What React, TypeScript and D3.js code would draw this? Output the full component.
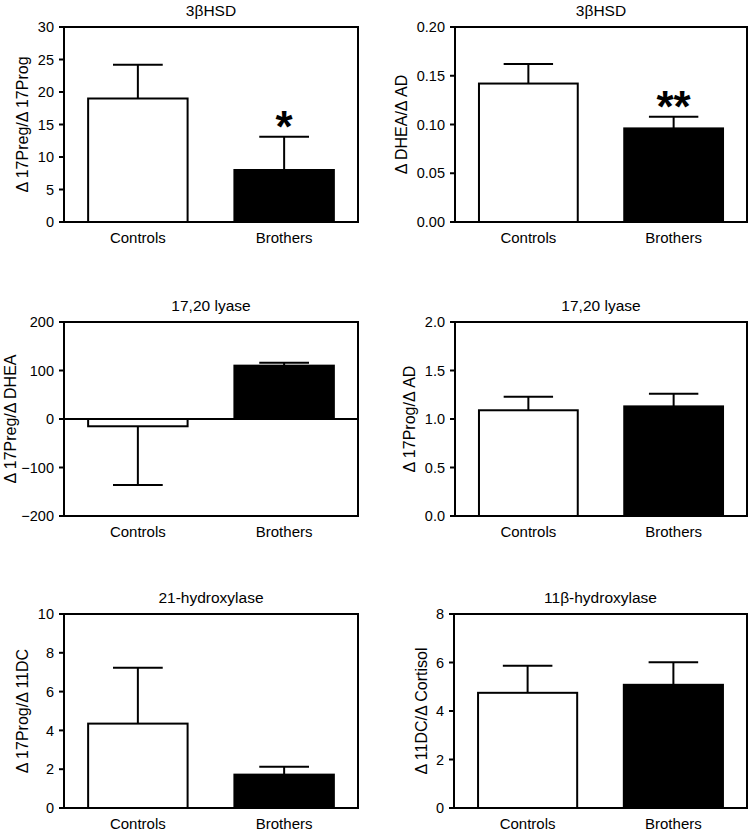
import React from "react";
import * as d3 from "d3";

const categories = ["Controls", "Brothers"];
const titles = ["3βHSD", "3βHSD", "17,20 lyase", "17,20 lyase", "21-hydroxylase", "11β-hydroxylase"];
const yLabels = ["Δ 17Preg/Δ 17Prog", "Δ DHEA/Δ AD", "Δ 17Preg/Δ DHEA", "Δ 17Prog/Δ AD", "Δ 17Prog/Δ 11DC", "Δ 11DC/Δ Cortisol"];

const hsdPregMeans = [19, 8];
const hsdPregErrors = [5.2, 5.1];
const hsdDheaMeans = [0.142, 0.096];
const hsdDheaErrors = [0.02, 0.012];
const lyasePregMeans = [-15, 110];
const lyasePregErrors = [121, 6];
const lyaseProgMeans = [1.09, 1.13];
const lyaseProgErrors = [0.14, 0.13];
const hydroxMeans = [4.35, 1.72];
const hydroxErrors = [2.88, 0.4];
const hydrox11Means = [4.75, 5.08];
const hydrox11Errors = [1.12, 0.93];

const yDomains = [[0, 30], [0, 0.2], [-200, 200], [0, 2], [0, 10], [0, 8]];
const yTickSteps = [5, 0.05, 100, 0.5, 2, 2];
const yTickFormats = ["d", ".2f", "d", ".1f", "d", "d"];
const significance = [["", "*"], ["", "**"], ["", ""], ["", ""], ["", ""], ["", ""]];

const allMeans = [hsdPregMeans, hsdDheaMeans, lyasePregMeans, lyaseProgMeans, hydroxMeans, hydrox11Means];
const allErrors = [hsdPregErrors, hsdDheaErrors, lyasePregErrors, lyaseProgErrors, hydroxErrors, hydrox11Errors];

const FONT = "'Liberation Sans', Arial, sans-serif";
const frames = [
  { x0: 64, x1: 358, y0: 27, y1: 222 },
  { x0: 455, x1: 747, y0: 27, y1: 222 },
  { x0: 64, x1: 358, y0: 322, y1: 516 },
  { x0: 455, x1: 747, y0: 322, y1: 516 },
  { x0: 64, x1: 358, y0: 614, y1: 808 },
  { x0: 454, x1: 747, y0: 614, y1: 808 },
];

function textWidth(s: string, size: number) {
  let w = 0;
  for (const c of s) {
    if (c === ".") w += 0.278;
    else if (c === "−" || c === "-") w += 0.584;
    else w += 0.556;
  }
  return w * size;
}

function Panel({ i }: { i: number }) {
  const f = frames[i];
  const x = d3.scaleBand().domain(categories).range([f.x0, f.x1]).paddingInner(0.32).paddingOuter(0.165);
  const y = d3.scaleLinear().domain(yDomains[i]).range([f.y1, f.y0]);
  const [lo, hi] = yDomains[i];
  const step = yTickSteps[i];
  const ticks = d3.range(0, Math.round((hi - lo) / step) + 1).map((k) => lo + k * step);
  const fmt = d3.format(yTickFormats[i]);
  const tickFont = 14.5;
  const maxW = d3.max(ticks, (t) => textWidth(fmt(t), tickFont)) as number;
  const labelX = Math.max(f.x0 - 10 - maxW - 15, 10);
  const midY = (f.y0 + f.y1) / 2;
  const means = allMeans[i];
  const errs = allErrors[i];
  const y0 = y(0);
  return (
    <g>
      <text x={(f.x0 + f.x1) / 2} y={f.y0 - 11.5} textAnchor="middle" fontSize={15.5} fontFamily={FONT}>
        {titles[i]}
      </text>
      {categories.map((c, j) => {
        const m = means[j];
        const e = errs[j];
        const bx = x(c) as number;
        const bw = x.bandwidth();
        const cx = bx + bw / 2;
        const ye = y(m >= 0 ? m + e : m - e);
        return (
          <g key={c}>
            <line x1={cx} x2={cx} y1={y(m)} y2={ye} stroke="#000" strokeWidth={2} />
            <line x1={cx - bw / 4} x2={cx + bw / 4} y1={ye} y2={ye} stroke="#000" strokeWidth={2} />
            <rect
              x={bx}
              y={Math.min(y(m), y0)}
              width={bw}
              height={Math.abs(y(m) - y0)}
              fill={j === 0 ? "#fff" : "#000"}
              stroke="#000"
              strokeWidth={2}
            />
            {significance[i][j] && (
              <text x={cx} y={ye + 5} textAnchor="middle" fontSize={44} fontWeight="bold" fontFamily={FONT}>
                {significance[i][j]}
              </text>
            )}
            <text x={cx} y={f.y1 + 20.5} textAnchor="middle" fontSize={15} fontFamily={FONT}>
              {c}
            </text>
          </g>
        );
      })}
      {lo < 0 && <line x1={f.x0} x2={f.x1} y1={y0} y2={y0} stroke="#000" strokeWidth={2} />}
      <rect x={f.x0} y={f.y0} width={f.x1 - f.x0} height={f.y1 - f.y0} fill="none" stroke="#000" strokeWidth={2} />
      {ticks.map((t) => (
        <g key={t}>
          <line x1={f.x0 - 5} x2={f.x0} y1={y(t)} y2={y(t)} stroke="#000" strokeWidth={2} />
          <text x={f.x0 - 10} y={y(t)} dy="0.36em" textAnchor="end" fontSize={tickFont} fontFamily={FONT}>
            {fmt(t)}
          </text>
        </g>
      ))}
      <text
        transform={`translate(${labelX},${midY}) rotate(-90)`}
        textAnchor="middle"
        dy="0.35em"
        fontSize={16}
        fontFamily={FONT}
      >
        {yLabels[i]}
      </text>
    </g>
  );
}

export default function App() {
  return (
    <svg width={750} height={830} style={{ position: "absolute", left: 0, top: 0, background: "#fff" }}>
      <rect width={750} height={830} fill="#fff" />
      {frames.map((_, i) => (
        <Panel key={i} i={i} />
      ))}
    </svg>
  );
}
